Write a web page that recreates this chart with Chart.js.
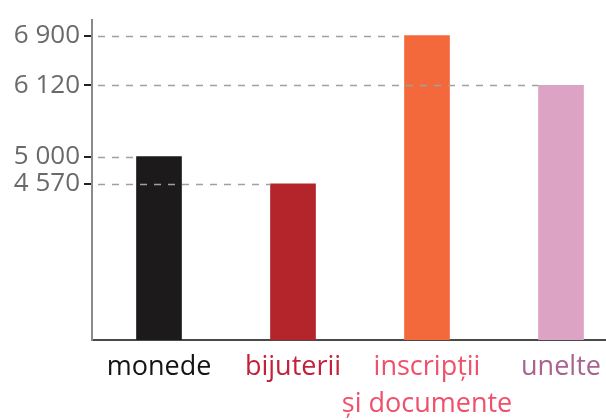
<!DOCTYPE html>
<html lang="ro">
<head>
  <meta charset="UTF-8" />
  <title>Descoperiri</title>
  <script src="https://cdn.jsdelivr.net/npm/chart.js"></script>
  <style>
    html, body { margin: 0; padding: 0; background: #fff; overflow: hidden; }
    #wrap { width: 628px; height: 420px; position: relative; }
  </style>
</head>
<body>
  <div id="wrap"><canvas id="chart"></canvas></div>

  <script>
    const categories = ['monede', 'bijuterii', ['inscripţii', 'şi documente'], 'unelte'];
    const values = [5000, 4570, 6900, 6120];
    const tickValues = [4570, 5000, 6120, 6900];
    const barColors = ['#1c1a1b', '#b3242b', '#f4693c', '#dca3c4'];
    const labelColors = ['#141414', '#c3203a', '#f0506a', '#a8638f'];

    const fmt = v => String(v).replace(/\B(?=(\d{3})+(?!\d))/g, ' ');

    // dashed guides from the axis to the top of each bar
    const guides = {
      id: 'guides',
      afterDatasetsDraw(chart) {
        const ctx = chart.ctx;
        const y = chart.scales.y;
        const meta = chart.getDatasetMeta(0);
        ctx.save();
        ctx.strokeStyle = '#a0a0a0';
        ctx.lineWidth = 1.5;
        ctx.setLineDash([7, 7]);
        values.forEach((v, i) => {
          const bar = meta.data[i];
          const py = Math.round(y.getPixelForValue(v)) + 0.5;
          ctx.beginPath();
          ctx.moveTo(chart.chartArea.left + 6, py);
          ctx.lineTo(bar.x - bar.width / 2, py);
          ctx.stroke();
        });
        ctx.restore();
      }
    };

    new Chart(document.getElementById('chart'), {
      type: 'bar',
      data: {
        labels: categories,
        datasets: [{
          data: values,
          backgroundColor: barColors,
          barThickness: 45
        }]
      },
      options: {
        responsive: true,
        maintainAspectRatio: false,
        animation: false,
        layout: { padding: { top: 2, right: 0, left: 0, bottom: 0 } },
        plugins: { legend: { display: false }, tooltip: { enabled: false } },
        scales: {
          x: {
            grid: { display: false, drawTicks: false },
            border: { color: '#4a4a4a', width: 2 },
            ticks: {
              padding: 8,
              maxRotation: 0,
              autoSkip: false,
              color: ctx => labelColors[ctx.index],
              font: { family: 'Open Sans', size: 27, lineHeight: 1.4 }
            },
            afterFit: s => { s.height = 80; }
          },
          y: {
            min: 2120,
            max: 7150,
            afterBuildTicks: s => { s.ticks = tickValues.map(v => ({ value: v })); },
            grid: { drawOnChartArea: false, tickLength: 8, color: '#222', lineWidth: 2 },
            border: { color: '#8a8a8a', width: 2 },
            ticks: {
              padding: 4,
              color: '#6a6a6a',
              font: { family: 'Open Sans', size: 26 },
              callback: v => fmt(v)
            },
            afterFit: s => { s.width = 92; }
          }
        }
      },
      plugins: [guides]
    });
  </script>
</body>
</html>
